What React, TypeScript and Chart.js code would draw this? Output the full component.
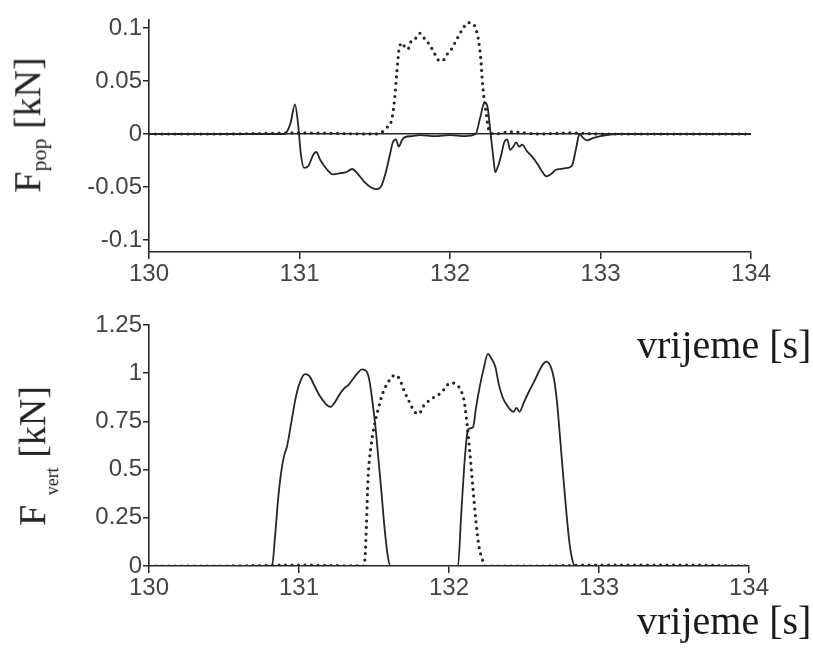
import React, { useEffect, useRef } from "react";
import { Chart, registerables } from "chart.js";

Chart.register(...registerables);

// ---------- data ----------
const xTicks = [130, 131, 132, 133, 134];
const popTicks = [-0.1, -0.05, 0, 0.05, 0.1];
const vertTicks = [0, 0.25, 0.5, 0.75, 1, 1.25];

// F_pop, solid foot
const popSolidT = [130.0, 130.3, 130.6, 130.9, 130.94, 130.97, 130.99, 131.01, 131.03, 131.06, 131.09, 131.11, 131.14, 131.18, 131.22, 131.27, 131.31, 131.35, 131.39, 131.43, 131.47, 131.51, 131.54, 131.57, 131.6, 131.62, 131.64, 131.66, 131.68, 131.7, 131.75, 131.8, 131.9, 132.0, 132.1, 132.17, 132.2, 132.23, 132.25, 132.27, 132.29, 132.3, 132.32, 132.34, 132.36, 132.38, 132.4, 132.42, 132.44, 132.46, 132.48, 132.51, 132.55, 132.58, 132.61, 132.64, 132.67, 132.7, 132.74, 132.78, 132.81, 132.84, 132.86, 132.88, 132.91, 132.95, 133.0, 133.1, 133.5, 134.0];
const popSolidV = [0, 0, 0, 0, 0.01, 0.028, 0.01, -0.02, -0.032, -0.03, -0.02, -0.017, -0.025, -0.033, -0.038, -0.037, -0.036, -0.033, -0.038, -0.045, -0.05, -0.052, -0.05, -0.038, -0.02, -0.008, -0.005, -0.012, -0.006, -0.003, -0.002, -0.001, -0.002, -0.001, -0.002, 0, 0.015, 0.03, 0.025, 0, -0.025, -0.036, -0.03, -0.02, -0.008, -0.005, -0.015, -0.012, -0.008, -0.012, -0.01, -0.016, -0.022, -0.028, -0.035, -0.04, -0.038, -0.034, -0.033, -0.032, -0.03, -0.012, 0, -0.003, -0.006, -0.004, -0.002, 0, 0, 0];

// F_pop, dotted foot
const popDotT = [130.0, 130.5, 131.0, 131.5, 131.55, 131.58, 131.61, 131.63, 131.645, 131.66, 131.68, 131.7, 131.72, 131.74, 131.77, 131.8, 131.83, 131.86, 131.89, 131.92, 131.95, 131.98, 132.01, 132.04, 132.08, 132.12, 132.15, 132.17, 132.19, 132.205, 132.215, 132.225, 132.24, 132.26, 132.3, 132.4, 132.6, 132.8, 133.0, 133.5, 134.0];
const popDotV = [0, 0, 0.001, 0, 0.002, 0.006, 0.012, 0.03, 0.055, 0.078, 0.086, 0.082, 0.08, 0.087, 0.09, 0.095, 0.09, 0.085, 0.078, 0.07, 0.069, 0.075, 0.08, 0.088, 0.098, 0.105, 0.104, 0.1, 0.088, 0.07, 0.05, 0.035, 0.02, 0.003, 0, 0.002, 0, 0.001, 0, 0, 0];

// F_vert, solid foot
const vertSolidT = [130.0, 130.5, 130.82, 130.84, 130.86, 130.88, 130.9, 130.92, 130.95, 130.98, 131.01, 131.04, 131.07, 131.1, 131.14, 131.18, 131.21, 131.24, 131.27, 131.3, 131.33, 131.36, 131.39, 131.42, 131.45, 131.47, 131.49, 131.51, 131.53, 131.55, 131.57, 131.59, 131.61, 131.8, 132.06, 132.08, 132.1, 132.12, 132.13, 132.16, 132.18, 132.2, 132.23, 132.26, 132.28, 132.31, 132.33, 132.36, 132.39, 132.41, 132.43, 132.45, 132.47, 132.5, 132.53, 132.57, 132.6, 132.63, 132.65, 132.68, 132.7, 132.72, 132.74, 132.76, 132.78, 132.8, 132.82, 132.84, 133.2, 133.6, 134.0];
const vertSolidV = [0, 0, 0, 0.15, 0.34, 0.48, 0.57, 0.62, 0.75, 0.88, 0.96, 0.995, 0.985, 0.94, 0.88, 0.84, 0.825, 0.85, 0.89, 0.92, 0.94, 0.97, 1.0, 1.02, 1.01, 0.96, 0.85, 0.72, 0.55, 0.38, 0.2, 0.06, 0, 0, 0, 0.25, 0.5, 0.68, 0.71, 0.72, 0.82, 0.91, 1.02, 1.1, 1.08, 1.03, 0.95, 0.87, 0.83, 0.81, 0.8, 0.82, 0.8, 0.85, 0.9, 0.96, 1.01, 1.05, 1.06, 1.03, 0.97, 0.85, 0.67, 0.48, 0.3, 0.14, 0.04, 0, 0, 0, 0];

// F_vert, dotted foot
const vertDotT = [130.0, 130.5, 131.0, 131.43, 131.44, 131.45, 131.46, 131.48, 131.5, 131.53, 131.56, 131.6, 131.64, 131.67, 131.7, 131.73, 131.77, 131.8, 131.83, 131.87, 131.91, 131.95, 131.99, 132.02, 132.05, 132.08, 132.1, 132.12, 132.14, 132.16, 132.18, 132.2, 132.22, 132.24, 132.6, 133.0, 133.5, 134.0];
const vertDotV = [0, 0, 0.005, 0, 0.04, 0.22, 0.45, 0.62, 0.72, 0.82, 0.9, 0.96, 0.99, 0.97, 0.91, 0.86, 0.8, 0.79, 0.83, 0.86, 0.88, 0.9, 0.94, 0.95, 0.94, 0.91, 0.86, 0.74, 0.58, 0.4, 0.23, 0.1, 0.04, 0, 0, 0.005, 0.005, 0];

// ---------- styling ----------
const INK = "#262626";
const TICK_FONT = { family: "'Liberation Sans', Arial, sans-serif", size: 24 };
const TICK_COLOR = "#444444";

function pts(t: number[], v: number[]) {
  return t.map((x, i) => ({ x, y: v[i] }));
}

function solidDs(t: number[], v: number[]) {
  return {
    data: pts(t, v),
    borderColor: INK,
    borderWidth: 1.8,
    pointRadius: 0,
    cubicInterpolationMode: "monotone" as const,
    fill: false,
  };
}
function dotDs(t: number[], v: number[]) {
  return {
    data: pts(t, v),
    borderColor: INK,
    borderWidth: 3.2,
    borderDash: [0, 6.5],
    borderCapStyle: "round" as const,
    pointRadius: 0,
    cubicInterpolationMode: "monotone" as const,
    fill: false,
  };
}

function makeOptions(yMin: number, yMax: number, yTicks: number[], padTop: number, padRight: number, xH: number, zeroLine: boolean) {
  return {
    responsive: false,
    animation: false as const,
    events: [],
    layout: { padding: { left: 0, right: padRight, top: padTop, bottom: 0 } },
    plugins: { legend: { display: false }, tooltip: { enabled: false } },
    scales: {
      x: {
        type: "linear" as const,
        min: 130,
        max: 134,
        afterBuildTicks: (s: any) => {
          s.ticks = xTicks.map((v) => ({ value: v }));
        },
        afterFit: (s: any) => {
          s.height = xH;
        },
        ticks: { font: TICK_FONT, color: TICK_COLOR, padding: 1, maxRotation: 0, autoSkip: false, callback: (v: any) => String(v) },
        grid: { drawOnChartArea: false, tickLength: 7, color: INK, lineWidth: 1.5 },
        border: { color: INK, width: 1.6 },
      },
      y: {
        type: "linear" as const,
        min: yMin,
        max: yMax,
        afterBuildTicks: (s: any) => {
          s.ticks = yTicks.map((v) => ({ value: v }));
        },
        afterFit: (s: any) => {
          s.width = 149;
        },
        ticks: { font: TICK_FONT, color: TICK_COLOR, padding: 1, autoSkip: false, callback: (v: any) => String(v) },
        grid: {
          drawOnChartArea: zeroLine,
          tickLength: 6,
          color: (ctx: any) => (ctx.tick && ctx.tick.value === 0 ? INK : "rgba(0,0,0,0)"),
          tickColor: INK,
          lineWidth: 1.5,
        },
        border: { color: INK, width: 1.6 },
      },
    },
  };
}

function PlotCanvas(props: { width: number; height: number; config: any }) {
  const ref = useRef<HTMLCanvasElement | null>(null);
  useEffect(() => {
    if (!ref.current) return;
    const chart = new Chart(ref.current, props.config);
    return () => chart.destroy();
  }, []);
  return <canvas ref={ref} width={props.width} height={props.height} style={{ display: "block", width: props.width, height: props.height }} />;
}

const serif = "'Liberation Serif', 'Times New Roman', serif";

export default function App() {
  const topConfig = {
    type: "line",
    data: { datasets: [solidDs(popSolidT, popSolidV), dotDs(popDotT, popDotV)] },
    options: makeOptions(-0.1113, 0.1075, popTicks, 20, 62, 38, true),
  };
  const bottomConfig = {
    type: "line",
    data: { datasets: [solidDs(vertSolidT, vertSolidV), dotDs(vertDotT, vertDotV)] },
    options: makeOptions(0, 1.25, vertTicks, 25, 64, 34, false),
  };

  const labelStyle: React.CSSProperties = {
    position: "absolute",
    fontFamily: serif,
    fontSize: 38,
    lineHeight: 1,
    color: "#222",
    whiteSpace: "nowrap",
    transform: "translate(-50%, -50%) rotate(-90deg)",
  };

  return (
    <div style={{ position: "fixed", left: 0, top: 0, width: 813, height: 649, background: "#fff", overflow: "hidden" }}>
      <div style={{ position: "absolute", left: 0, top: 0 }}>
        <PlotCanvas width={813} height={290} config={topConfig} />
      </div>
      <div style={{ position: "absolute", left: 0, top: 300 }}>
        <PlotCanvas width={813} height={300} config={bottomConfig} />
      </div>

      <div style={{ ...labelStyle, left: 29, top: 125 }}>
        F<sub style={{ fontSize: 22, verticalAlign: "-0.25em" }}>pop</sub> [kN]
      </div>
      <div style={{ ...labelStyle, left: 37, top: 456 }}>
        F <sub style={{ fontSize: 18, verticalAlign: "-0.7em" }}>vert</sub> [kN]
      </div>

      <div style={{ position: "absolute", left: 637, top: 325, fontFamily: serif, fontSize: 40, lineHeight: 1, color: "#1a1a1a", whiteSpace: "nowrap" }}>
        vrijeme [s]
      </div>
      <div style={{ position: "absolute", left: 637, top: 601, fontFamily: serif, fontSize: 40, lineHeight: 1, color: "#1a1a1a", whiteSpace: "nowrap" }}>
        vrijeme [s]
      </div>
    </div>
  );
}
